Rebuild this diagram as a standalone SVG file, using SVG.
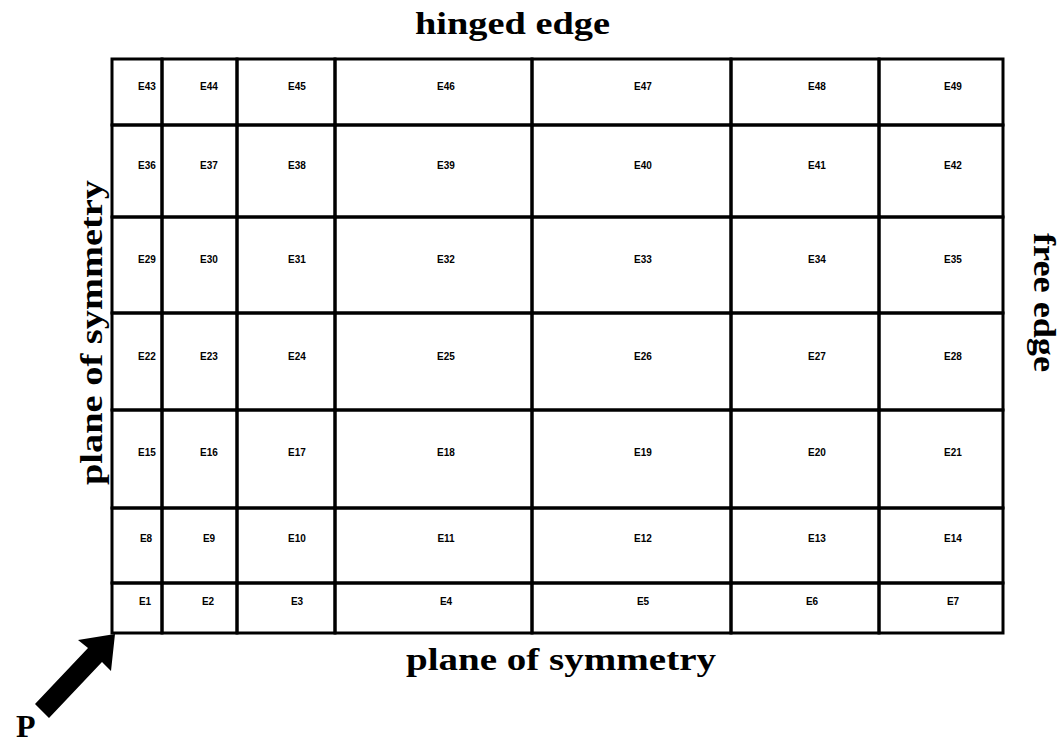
<svg xmlns="http://www.w3.org/2000/svg" width="1062" height="743" viewBox="0 0 1062 743">
<style>
.cell{fill:none;stroke:#000;stroke-width:3}
.el{font-family:"Liberation Sans",Arial,sans-serif;font-size:10px;font-weight:bold;text-anchor:middle;fill:#000}
.big{font-family:"Liberation Serif","Times New Roman",serif;font-size:32px;font-weight:bold;fill:#000}
</style>
<rect width="1062" height="743" fill="#fff"/>
<g id="mesh">
<g id="E43"><rect class="cell" x="112" y="59" width="50" height="66"/><text class="el" x="147" y="90">E43</text></g>
<g id="E44"><rect class="cell" x="162" y="59" width="75" height="66"/><text class="el" x="209" y="90">E44</text></g>
<g id="E45"><rect class="cell" x="237" y="59" width="98" height="66"/><text class="el" x="297" y="90">E45</text></g>
<g id="E46"><rect class="cell" x="335" y="59" width="197" height="66"/><text class="el" x="446" y="90">E46</text></g>
<g id="E47"><rect class="cell" x="532" y="59" width="199" height="66"/><text class="el" x="643" y="90">E47</text></g>
<g id="E48"><rect class="cell" x="731" y="59" width="148" height="66"/><text class="el" x="817" y="90">E48</text></g>
<g id="E49"><rect class="cell" x="879" y="59" width="124" height="66"/><text class="el" x="953" y="90">E49</text></g>

<g id="E36"><rect class="cell" x="112" y="125" width="50" height="92"/><text class="el" x="147" y="169">E36</text></g>
<g id="E37"><rect class="cell" x="162" y="125" width="75" height="92"/><text class="el" x="209" y="169">E37</text></g>
<g id="E38"><rect class="cell" x="237" y="125" width="98" height="92"/><text class="el" x="297" y="169">E38</text></g>
<g id="E39"><rect class="cell" x="335" y="125" width="197" height="92"/><text class="el" x="446" y="169">E39</text></g>
<g id="E40"><rect class="cell" x="532" y="125" width="199" height="92"/><text class="el" x="643" y="169">E40</text></g>
<g id="E41"><rect class="cell" x="731" y="125" width="148" height="92"/><text class="el" x="817" y="169">E41</text></g>
<g id="E42"><rect class="cell" x="879" y="125" width="124" height="92"/><text class="el" x="953" y="169">E42</text></g>

<g id="E29"><rect class="cell" x="112" y="217" width="50" height="96"/><text class="el" x="147" y="263">E29</text></g>
<g id="E30"><rect class="cell" x="162" y="217" width="75" height="96"/><text class="el" x="209" y="263">E30</text></g>
<g id="E31"><rect class="cell" x="237" y="217" width="98" height="96"/><text class="el" x="297" y="263">E31</text></g>
<g id="E32"><rect class="cell" x="335" y="217" width="197" height="96"/><text class="el" x="446" y="263">E32</text></g>
<g id="E33"><rect class="cell" x="532" y="217" width="199" height="96"/><text class="el" x="643" y="263">E33</text></g>
<g id="E34"><rect class="cell" x="731" y="217" width="148" height="96"/><text class="el" x="817" y="263">E34</text></g>
<g id="E35"><rect class="cell" x="879" y="217" width="124" height="96"/><text class="el" x="953" y="263">E35</text></g>

<g id="E22"><rect class="cell" x="112" y="313" width="50" height="97"/><text class="el" x="147" y="360">E22</text></g>
<g id="E23"><rect class="cell" x="162" y="313" width="75" height="97"/><text class="el" x="209" y="360">E23</text></g>
<g id="E24"><rect class="cell" x="237" y="313" width="98" height="97"/><text class="el" x="297" y="360">E24</text></g>
<g id="E25"><rect class="cell" x="335" y="313" width="197" height="97"/><text class="el" x="446" y="360">E25</text></g>
<g id="E26"><rect class="cell" x="532" y="313" width="199" height="97"/><text class="el" x="643" y="360">E26</text></g>
<g id="E27"><rect class="cell" x="731" y="313" width="148" height="97"/><text class="el" x="817" y="360">E27</text></g>
<g id="E28"><rect class="cell" x="879" y="313" width="124" height="97"/><text class="el" x="953" y="360">E28</text></g>

<g id="E15"><rect class="cell" x="112" y="410" width="50" height="98"/><text class="el" x="147" y="456">E15</text></g>
<g id="E16"><rect class="cell" x="162" y="410" width="75" height="98"/><text class="el" x="209" y="456">E16</text></g>
<g id="E17"><rect class="cell" x="237" y="410" width="98" height="98"/><text class="el" x="297" y="456">E17</text></g>
<g id="E18"><rect class="cell" x="335" y="410" width="197" height="98"/><text class="el" x="446" y="456">E18</text></g>
<g id="E19"><rect class="cell" x="532" y="410" width="199" height="98"/><text class="el" x="643" y="456">E19</text></g>
<g id="E20"><rect class="cell" x="731" y="410" width="148" height="98"/><text class="el" x="817" y="456">E20</text></g>
<g id="E21"><rect class="cell" x="879" y="410" width="124" height="98"/><text class="el" x="953" y="456">E21</text></g>

<g id="E8"><rect class="cell" x="112" y="508" width="50" height="75"/><text class="el" x="146" y="542">E8</text></g>
<g id="E9"><rect class="cell" x="162" y="508" width="75" height="75"/><text class="el" x="209" y="542">E9</text></g>
<g id="E10"><rect class="cell" x="237" y="508" width="98" height="75"/><text class="el" x="297" y="542">E10</text></g>
<g id="E11"><rect class="cell" x="335" y="508" width="197" height="75"/><text class="el" x="446" y="542">E11</text></g>
<g id="E12"><rect class="cell" x="532" y="508" width="199" height="75"/><text class="el" x="643" y="542">E12</text></g>
<g id="E13"><rect class="cell" x="731" y="508" width="148" height="75"/><text class="el" x="817" y="542">E13</text></g>
<g id="E14"><rect class="cell" x="879" y="508" width="124" height="75"/><text class="el" x="953" y="542">E14</text></g>

<g id="E1"><rect class="cell" x="112" y="583" width="50" height="50"/><text class="el" x="145" y="605">E1</text></g>
<g id="E2"><rect class="cell" x="162" y="583" width="75" height="50"/><text class="el" x="208" y="605">E2</text></g>
<g id="E3"><rect class="cell" x="237" y="583" width="98" height="50"/><text class="el" x="297" y="605">E3</text></g>
<g id="E4"><rect class="cell" x="335" y="583" width="197" height="50"/><text class="el" x="446" y="605">E4</text></g>
<g id="E5"><rect class="cell" x="532" y="583" width="199" height="50"/><text class="el" x="643" y="605">E5</text></g>
<g id="E6"><rect class="cell" x="731" y="583" width="148" height="50"/><text class="el" x="812" y="605">E6</text></g>
<g id="E7"><rect class="cell" x="879" y="583" width="124" height="50"/><text class="el" x="953" y="605">E7</text></g>
</g>
<g id="edge-labels">
<text class="big" x="415" y="34" font-size="33" textLength="195" lengthAdjust="spacingAndGlyphs">hinged edge</text>
<text class="big" x="406" y="670" font-size="33" textLength="310" lengthAdjust="spacingAndGlyphs">plane of symmetry</text>
<text class="big" transform="translate(102,485) rotate(-90)" x="0" y="0" font-size="33" textLength="305" lengthAdjust="spacingAndGlyphs">plane of symmetry</text>
<text class="big" transform="translate(1034,233) rotate(90)" x="0" y="0" font-size="33" textLength="139" lengthAdjust="spacingAndGlyphs">free edge</text>
</g>
<g id="load-P">
<polygon points="115,634 111,671 102,662 49,718 35,704 88,648 78,640" fill="#000"/>
<text class="big" x="16" y="737" font-size="36">P</text>
</g>
</svg>
